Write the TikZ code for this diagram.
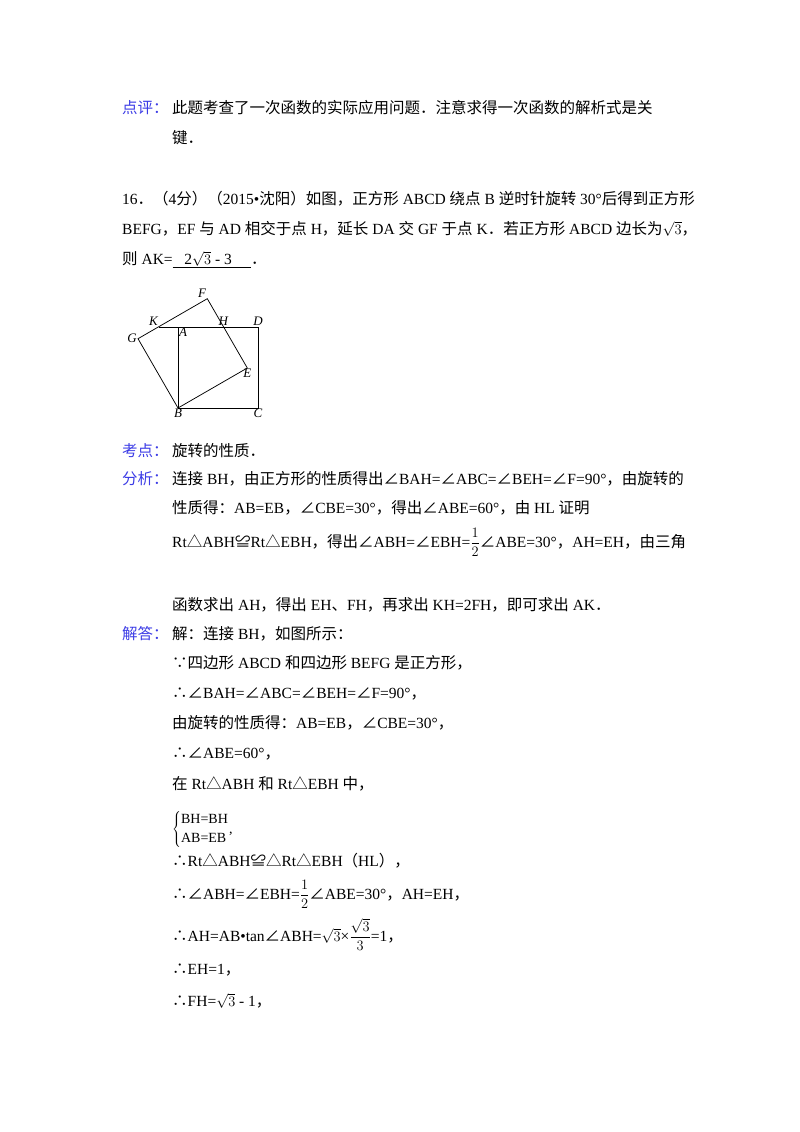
\documentclass[tikz,border=0pt]{standalone}
\usepackage{fontspec}
\setmainfont{Liberation Serif}
\newfontfamily\cjk{Noto Sans CJK SC}
\newfontfamily\lat{Liberation Serif}
\XeTeXinterchartokenstate=1
\newXeTeXintercharclass\CJKcls
\makeatletter
\def\setcls#1#2{\count@=#1\relax\loop\XeTeXcharclass\count@=\CJKcls\ifnum\count@<#2\advance\count@ 1\repeat}
\makeatother
\setcls{"4E00}{"9FFF}
\setcls{"FF00}{"FFEF}
\setcls{"3000}{"303F}
\XeTeXcharclass"2220=\CJKcls
\XeTeXcharclass"25B3=\CJKcls
\XeTeXcharclass"224C=\CJKcls
\XeTeXcharclass"2234=\CJKcls
\XeTeXcharclass"2235=\CJKcls
\XeTeXinterchartoks 0 \CJKcls = {\cjk}
\XeTeXinterchartoks 4095 \CJKcls = {\cjk}
\XeTeXinterchartoks \CJKcls 0 = {\lat}
\XeTeXinterchartoks \CJKcls 4095 = {\lat}
\definecolor{lbl}{RGB}{60,60,230}
\tikzset{t/.style={anchor=base west,inner sep=0pt,font=\fontsize{15.5}{18}\selectfont},
 lb/.style={t,text=lbl}, pl/.style={font=\fontsize{13}{14}\selectfont\itshape,inner sep=1pt},
 edge/.style={line width=0.75pt}}
\begin{document}
\begin{tikzpicture}[x=1pt,y=-1pt]
\useasboundingbox (0,0) rectangle (800,1132);
\fill[white] (0,0) rectangle (800,1132);
\node[lb] (l1) at (122,113) {点评：};
\node[t] (t1) at (172,113) {此题考查了一次函数的实际应用问题．注意求得一次函数的解析式是关};
\node[t] (t2) at (172,143) {键．};
\node[t] (t3) at (122,204) {16．（4分）（2015•沈阳）如图，正方形 ABCD 绕点 B 逆时针旋转 30°后得到正方形};
\node[t] (t4) at (122,234) {BEFG，EF 与 AD 相交于点 H，延长 DA 交 GF 于点 K．若正方形 ABCD 边长为$\sqrt{3}$，};
\node[t] (t5) at (122,264) {则 AK=\underline{\ \ \ 2$\sqrt{3}$ - 3\ \ \ \ \ }．};
% figure
\coordinate (B) at (178,408); \coordinate (C) at (258,408);
\coordinate (D) at (258,327); \coordinate (A) at (178,327);
\coordinate (E) at (247.3,368); \coordinate (G) at (138,338.7);
\coordinate (F) at (207.3,298.7); \coordinate (H) at (223.4,327); \coordinate (K) at (159,327);
\draw[edge] (K) -- (D) -- (C) -- (B) -- (A);
\draw[edge] (B) -- (E) -- (F) -- (G) -- cycle;
\node[pl,above left] at (F) {F};
\node[pl,above left] at (K) {K};
\node[pl,above] at (H) {H};
\node[pl,above] at (D) {D};
\node[pl,left] at (G) {G};
\node[pl,below right] at (A) {A};
\node[pl,below] at (E) {E};
\node[pl,below] at (B) {B};
\node[pl,below] at (C) {C};
% text below
\node[lb] (l2) at (122,456) {考点：};
\node[t] at (172,456) {旋转的性质．};
\node[lb] (l3) at (122,484) {分析：};
\node[t] at (172,484) {连接 BH，由正方形的性质得出∠BAH=∠ABC=∠BEH=∠F=90°，由旋转的};
\node[t] at (172,513) {性质得：AB=EB，∠CBE=30°，得出∠ABE=60°，由 HL 证明};
\node[t] at (172,547) {Rt△ABH≌Rt△EBH，得出∠ABH=∠EBH=${\displaystyle\frac{1}{2}}$∠ABE=30°，AH=EH，由三角};
\node[t] at (172,610) {函数求出 AH，得出 EH、FH，再求出 KH=2FH，即可求出 AK．};
\node[lb] (l4) at (122,639) {解答：};
\node[t] at (172,639) {解：连接 BH，如图所示：};
\node[t] at (172,668) {∵四边形 ABCD 和四边形 BEFG 是正方形，};
\node[t] at (172,698) {∴∠BAH=∠ABC=∠BEH=∠F=90°，};
\node[t] at (172,728) {由旋转的性质得：AB=EB，∠CBE=30°，};
\node[t] at (172,758) {∴∠ABE=60°，};
\node[t] at (172,789) {在 Rt△ABH 和 Rt△EBH 中，};
\node[t,font=\fontsize{14}{16}\selectfont] at (172,833) {$\left\{\begin{array}{@{}l@{}}\mbox{BH=BH}\\[3pt] \mbox{AB=EB}\end{array}\right.$,};
\node[t] at (172,866) {∴Rt△ABH≌△Rt△EBH（HL），};
\node[t] at (172,899) {∴∠ABH=∠EBH=${\displaystyle\frac{1}{2}}$∠ABE=30°，AH=EH，};
\node[t] at (172,941) {∴AH=AB•tan∠ABH=$\sqrt{3}$×${\displaystyle\frac{\sqrt{3}}{3}}$=1，};
\node[t] at (172,974) {∴EH=1，};
\node[t] at (172,1006) {∴FH=$\sqrt{3}$ - 1，};
\end{tikzpicture}
\end{document}
